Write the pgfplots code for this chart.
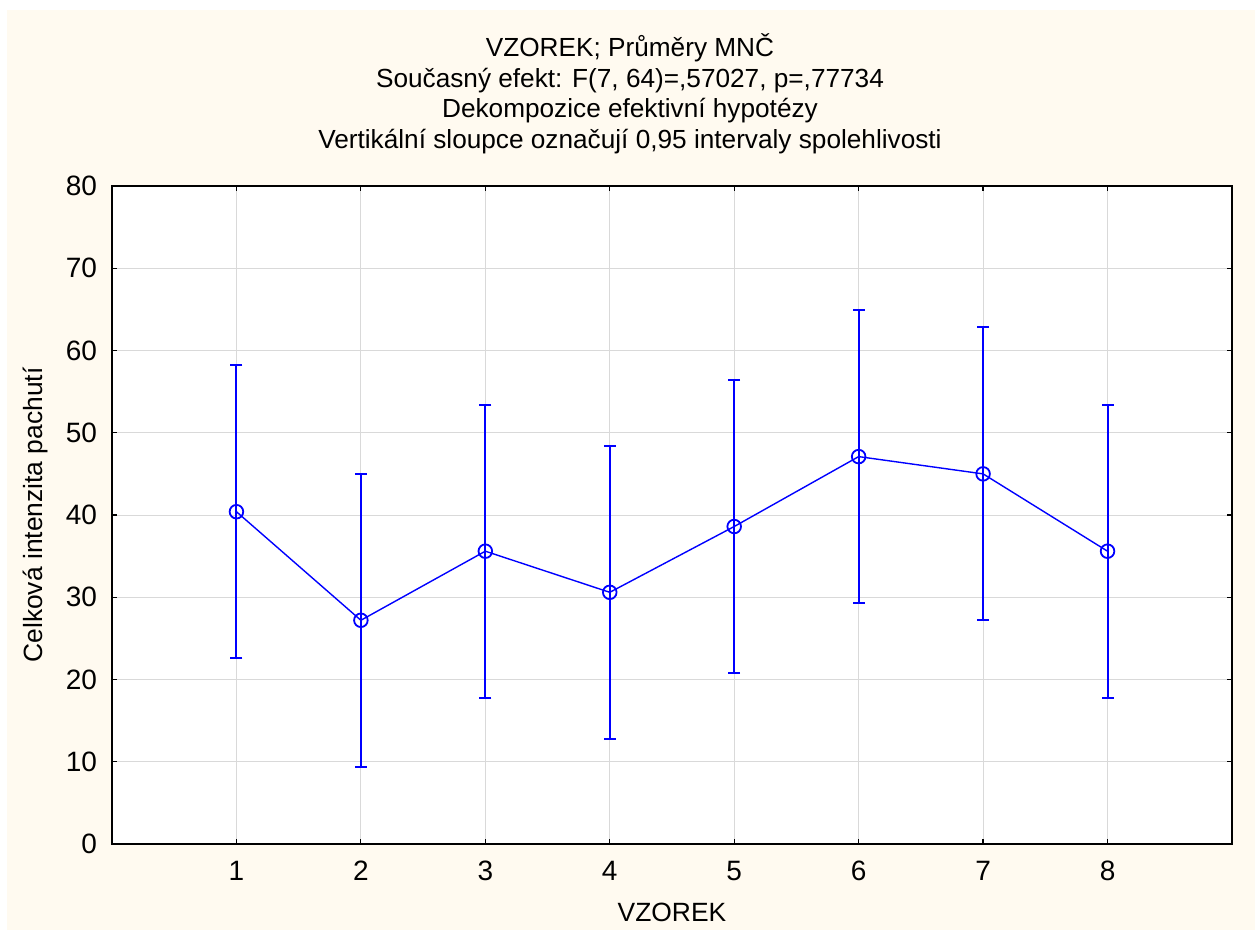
\documentclass[border=0pt]{standalone}
\usepackage{pgfplots}
\pgfplotsset{compat=1.18}
\usepackage{pgfplotstable}
\usepackage{fontspec}
\setmainfont{Liberation Sans}
\definecolor{cream}{HTML}{FFFAF0}
\definecolor{gridgray}{HTML}{D9D9D9}

\pgfplotstableread{
x  y
1  40.4
2  27.2
3  35.6
4  30.6
5  38.6
6  47.1
7  45.0
8  35.6
}\means

% 0.95 confidence limits, one segment per sample
\pgfplotstableread{
x  y
1  22.6
1  58.2
1  nan
2  9.4
2  45.0
2  nan
3  17.8
3  53.4
3  nan
4  12.8
4  48.4
4  nan
5  20.8
5  56.4
5  nan
6  29.3
6  64.9
6  nan
7  27.2
7  62.8
7  nan
8  17.8
8  53.4
}\limits

\begin{document}
\begin{tikzpicture}
  \path[use as bounding box, fill=white] (0,0) rectangle (630pt,469pt);
  \fill[cream] (3.5pt,4pt) rectangle (627.5pt,464pt);
  \begin{axis}[
    at={(56pt,47pt)}, anchor=south west,
    scale only axis,
    width=560pt, height=329pt,
    axis background/.style={fill=white},
    xmin=0, xmax=9, ymin=0, ymax=80,
    xtick={1,...,8},
    ytick={0,10,...,80},
    tick align=inside,
    major tick length=2.5pt,
    tick style={black, line width=0.6pt},
    axis line style={black, line width=0.9pt},
    grid=major,
    grid style={gridgray, line width=0.5pt},
    unbounded coords=jump,
    /pgf/number format/assume math mode=true,
    tick label style={font=\fontsize{14}{16}\selectfont},
    xticklabel style={yshift=-5pt},
    yticklabel style={xshift=-4pt},
    xlabel={VZOREK},
    ylabel={Celková intenzita pachutí},
    label style={font=\fontsize{13.2}{15}\selectfont},
    xlabel style={yshift=-4pt},
    ylabel style={yshift=2pt},
    title={VZOREK; Průměry MNČ\\Současný efekt: F(7, 64)=,57027, p=,77734\\Dekompozice efektivní hypotézy\\Vertikální sloupce označují 0,95 intervaly spolehlivosti},
    title style={align=center, font=\fontsize{13.1}{15.3}\selectfont, xshift=-21pt, yshift=6.5pt},
  ]
    % means
    \addplot[blue, line width=0.7pt, mark=o, mark size=3.4pt,
      mark options={line width=0.9pt}]
      table[x=x, y=y] {\means};
    % confidence intervals
    \addplot[blue, line width=1pt, mark=-, mark size=3pt,
      mark options={solid, line width=1pt}, forget plot]
      table[x=x, y=y] {\limits};
  \end{axis}
\end{tikzpicture}
\end{document}
